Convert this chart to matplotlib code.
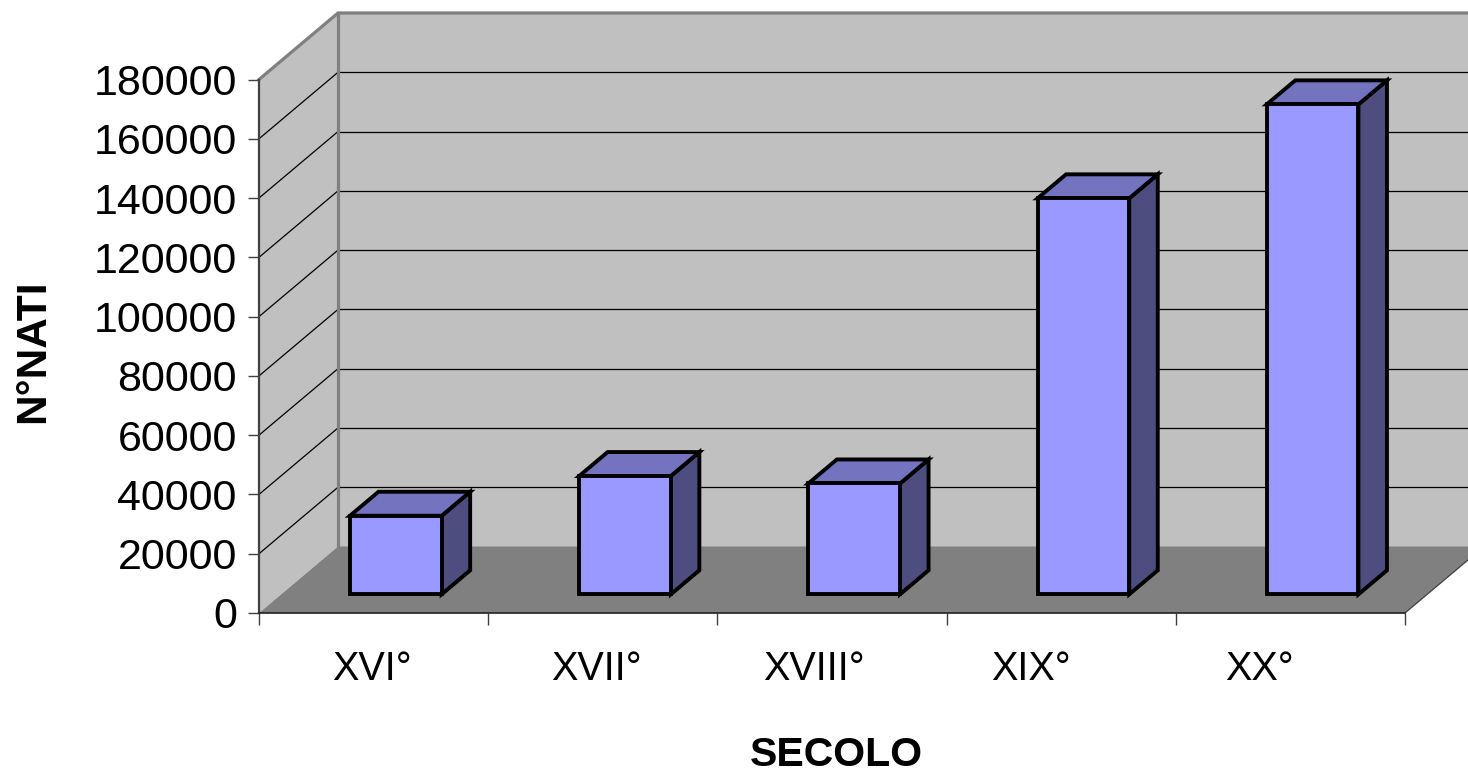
import matplotlib
matplotlib.use("Agg")
import matplotlib.pyplot as plt
from matplotlib import font_manager
from matplotlib.patches import Polygon

# ---- data ----
categories = ["XVI°", "XVII°", "XVIII°", "XIX°", "XX°"]
values = [26500, 39900, 37400, 133600, 165300]
yticks = [0, 20000, 40000, 60000, 80000, 100000, 120000, 140000, 160000, 180000]
ytick_labels = [str(v) for v in yticks]
ylabel = "N°NATI"
xlabel = "SECOLO"

# ---- style / layout ----
W, H = 1468, 772
fig = plt.figure(figsize=(W / 100, H / 100), dpi=100)
fig.patch.set_facecolor("white")

def has_font(name):
    try:
        font_manager.findfont(font_manager.FontProperties(family=name), fallback_to_default=False)
        return True
    except Exception:
        return False

REG = "Liberation Sans" if has_font("Liberation Sans") else "DejaVu Sans"
if has_font("Liberation Sans Narrow"):
    NARROW, CAT_SIZE = "Liberation Sans Narrow", 32
else:
    NARROW, CAT_SIZE = REG, 28.5

x0_px, x1_px = 259, 1405
y0_px, y1_px = 613, 79.5
ax = fig.add_axes([x0_px / W, 1 - y0_px / H, (x1_px - x0_px) / W, (y0_px - y1_px) / H])
ncat = len(categories)
ymax = yticks[-1]
ax.set_xlim(0, ncat)
ax.set_ylim(0, ymax)
ax.patch.set_visible(False)

# depth vector in data units
px_per_cat = (x1_px - x0_px) / ncat
px_per_val = (y0_px - y1_px) / ymax
DX = 79 / px_per_cat
DY = 66.5 / px_per_val

wall_c = "#C0C0C0"
floor_c = "#808080"
border_c = "#808080"

def poly(pts, fc, ec="none", lw=0, z=1):
    p = Polygon(pts, closed=True, facecolor=fc, edgecolor=ec, linewidth=lw,
                clip_on=False, zorder=z, joinstyle="miter")
    ax.add_patch(p)

# back wall
poly([(DX, DY), (ncat + DX, DY), (ncat + DX, ymax + DY), (DX, ymax + DY)], wall_c, z=1)
# left wall
poly([(0, 0), (DX, DY), (DX, ymax + DY), (0, ymax)], wall_c, z=1)
# floor
poly([(0, 0), (ncat, 0), (ncat + DX, DY), (DX, DY)], floor_c, z=1.5)

# gridlines
for v in yticks[1:-1]:
    ax.plot([DX, ncat + DX], [v + DY, v + DY], color="black", lw=0.9, clip_on=False, zorder=2)
    ax.plot([0, DX], [v, v + DY], color="black", lw=0.9, clip_on=False, zorder=2)

# wall borders
ax.plot([0, DX, ncat + DX], [ymax, ymax + DY, ymax + DY], color=border_c, lw=2.3,
        clip_on=False, zorder=2.5, solid_joinstyle="miter")
ax.plot([DX, DX], [DY, ymax + DY], color=border_c, lw=2.3, clip_on=False, zorder=2.5)
ax.plot([ncat, ncat + DX], [0, DY], color="#404040", lw=0.9, clip_on=False, zorder=2.5)

# bars
front_c = "#9999FF"
top_c = "#7373BF"
side_c = "#4D4D80"
f0, f1 = 0.281, 0.642
hw = 0.2
shift = 0.5
for i, v in enumerate(values):
    c = i + shift
    xl0 = c - hw + f0 * DX
    xr0 = c + hw + f0 * DX
    xl1 = c - hw + f1 * DX
    xr1 = c + hw + f1 * DX
    yb0 = f0 * DY
    yb1 = f1 * DY
    lw = 2.8
    poly([(xr0, yb0), (xr1, yb1), (xr1, yb1 + v), (xr0, yb0 + v)], side_c, "black", lw, z=3)
    poly([(xl0, yb0 + v), (xr0, yb0 + v), (xr1, yb1 + v), (xl1, yb1 + v)], top_c, "black", lw, z=3)
    poly([(xl0, yb0), (xr0, yb0), (xr0, yb0 + v), (xl0, yb0 + v)], front_c, "black", lw, z=3)

# axes spines & ticks
for s in ["top", "right"]:
    ax.spines[s].set_visible(False)
ax.spines["left"].set_color("#404040")
ax.spines["left"].set_linewidth(1.6)
ax.spines["bottom"].set_color("#202020")
ax.spines["bottom"].set_linewidth(1.2)
ax.spines["left"].set_zorder(4)
ax.spines["bottom"].set_zorder(4)

ax.set_yticks(yticks)
ax.set_yticklabels(ytick_labels, fontfamily=REG, fontsize=31)
ax.tick_params(axis="y", direction="out", length=8, width=1.0, color="#404040", pad=8)
ax.set_xticks(range(ncat + 1))
ax.set_xticklabels([""] * (ncat + 1))
ax.tick_params(axis="x", direction="out", length=8.5, width=1.0, color="#404040")

# category labels (Excel placed them slightly left of center)
label_dx = [-0.007, -0.03, -0.079, -0.132, -0.133]
for i, (lab, d) in enumerate(zip(categories, label_dx)):
    ax.annotate(lab, xy=(i + 0.5 + d, 0), xycoords="data", xytext=(0, -48.5),
                textcoords="offset points", ha="center", va="baseline",
                fontsize=CAT_SIZE, fontfamily=NARROW, annotation_clip=False)

# axis titles
fig.text(836 / W, 1 - 765.7 / H, xlabel, ha="center", va="baseline",
         fontsize=29.5, fontweight="bold", fontfamily=REG)
fig.text(33 / W, 1 - 351 / H, ylabel, ha="center", va="center", rotation=90,
         fontsize=30.5, fontweight="bold", fontfamily=REG)

fig.savefig("out.png", dpi=100)
